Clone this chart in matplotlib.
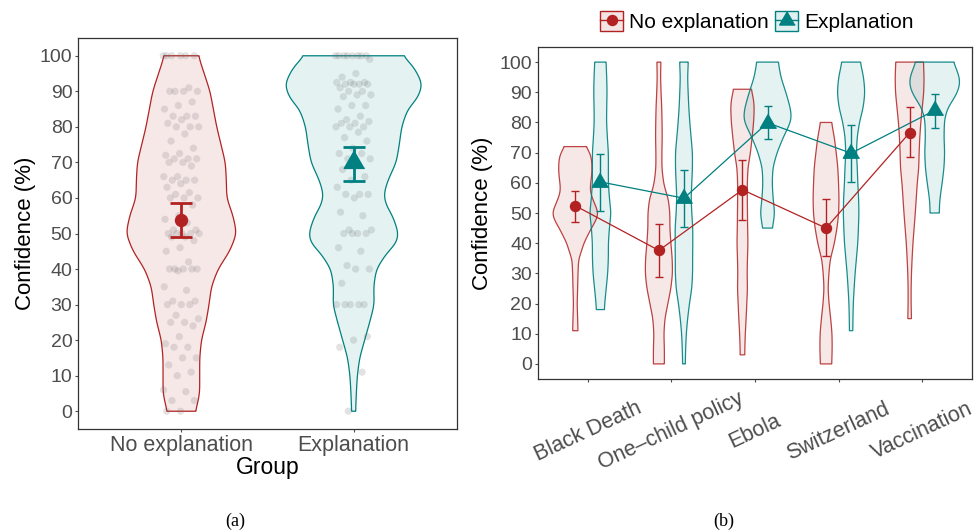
import numpy as np
import matplotlib
matplotlib.use('Agg')
import matplotlib.pyplot as plt
from matplotlib.patches import Patch
from matplotlib.lines import Line2D

plt.rcParams['font.family'] = ['Liberation Sans', 'DejaVu Sans']

RED = '#B22222'
TEAL = '#008080'
TICKC = '#4D4D4D'
FRAME = '#333333'

# ---------------- Panel (a) data ----------------
groups = ['No explanation', 'Explanation']
a_mean = [53.8, 70.0]
a_lo = [49.1, 64.8]
a_hi = [58.5, 74.3]

# violin half-width profiles (relative density) at confidence levels
a_noexp_y = [0, 2, 5, 10, 15, 20, 25, 30, 35, 40, 45, 50, 55, 60, 65, 70, 80, 90, 100]
a_noexp_w = [42, 48, 55, 55, 55, 60, 74, 83, 90, 110, 145, 166, 155, 136, 135, 132, 106, 86, 51]
a_exp_y = [0, 5, 10, 15, 20, 25, 30, 35, 40, 45, 47, 50, 55, 58, 61, 65, 70, 75, 80, 85, 88, 92, 97, 100]
a_exp_w = [6, 8, 11, 18, 33, 48, 62, 60, 68, 103, 128, 135, 117, 97, 90, 103, 128, 137, 144, 162, 192, 207, 180, 146]

# individual responses (confidence %)
a_noexp_pts = [100, 100, 100, 100, 100, 100, 91, 90, 90, 90, 90, 87, 86, 85, 83, 83, 83, 82, 81, 80, 80, 80,
               78, 76, 74, 72.5, 72, 71, 71, 71, 70, 70, 69, 66, 66, 65, 65, 65, 64, 63, 61.5, 61, 60, 60, 60,
               58, 55, 54, 53, 51, 51, 50, 50, 50, 50, 50, 49, 49, 48, 46, 45, 42, 40, 40, 40, 40, 40, 39.5,
               35, 34, 31, 31, 30, 30, 30, 27, 26, 25, 25, 24, 21, 19, 18, 18, 15, 15, 13, 11, 10, 6, 5.5,
               3, 3, 0, 0]
a_exp_pts = [100, 100, 100, 100, 100, 100, 100, 100, 99, 95, 94, 92.5, 92.5, 92.5, 92, 92, 92, 92, 91, 90, 90,
             89, 89, 88.5, 86, 86, 85, 83, 82, 81.5, 81, 81, 80, 80, 80, 78.5, 77, 76, 74, 72.5, 72.5, 71, 71,
             70, 68, 66, 65, 63, 61, 61, 61, 60, 56, 55, 51, 51, 50, 50, 50, 50, 46, 45, 41, 40, 40, 36, 30,
             30, 30, 30, 30, 21, 20, 18, 11, 0]

# ---------------- Panel (b) data ----------------
topics = ['Black Death', 'One\u2013child policy', 'Ebola', 'Switzerland', 'Vaccination']
b_noexp_mean = [52.4, 37.6, 57.7, 45.0, 76.6]
b_noexp_lo = [47.0, 28.8, 47.6, 35.6, 68.5]
b_noexp_hi = [57.4, 46.2, 67.7, 54.6, 85.0]
b_exp_mean = [60.3, 54.9, 79.9, 69.8, 84.0]
b_exp_lo = [50.8, 45.2, 74.4, 60.2, 78.1]
b_exp_hi = [69.6, 64.2, 85.6, 79.1, 89.5]

b_noexp_y = [
    [11, 15, 20, 25, 30, 35, 37, 40, 42, 45, 47, 50, 52, 55, 57, 60, 63, 67, 70, 72],
    [0, 5, 10, 15, 20, 25, 30, 35, 40, 45, 50, 55, 57, 60, 65, 70, 75, 80, 85, 90, 95, 100],
    [3, 5, 10, 15, 20, 25, 30, 35, 40, 45, 50, 55, 60, 65, 70, 75, 80, 85, 88, 91],
    [0, 5, 10, 15, 20, 25, 30, 35, 37, 40, 45, 50, 55, 60, 65, 70, 75, 80],
    [15, 20, 25, 30, 35, 40, 45, 50, 55, 60, 65, 70, 75, 80, 85, 90, 95, 100],
]
b_noexp_w = [
    [8, 7, 5.5, 7, 8, 10, 18, 25, 35, 48, 60, 71, 62, 51, 44, 46, 50, 50, 45, 30],
    [16.5, 16.5, 15, 18, 27, 36, 41, 40, 36, 33, 33, 28, 21, 14, 9, 9, 10, 9.5, 8.5, 6.5, 5, 6],
    [7, 7, 8.5, 11, 13, 15, 14, 15, 16.5, 15.5, 15, 14.5, 14.5, 16.5, 24, 29, 33.5, 35.5, 33, 26],
    [17, 18.5, 18, 14, 9, 6, 8.5, 13, 18.5, 25, 33, 38, 39, 37.5, 35.5, 30.5, 25, 16.5],
    [5.5, 4.5, 4.5, 5.5, 7.5, 10, 13.5, 17, 20, 23, 27.5, 28.5, 30.5, 33.5, 38, 42.5, 43.5, 41.5],
]
b_exp_y = [
    [18, 20, 25, 30, 35, 40, 45, 50, 55, 60, 65, 70, 75, 80, 85, 90, 95, 100],
    [0, 5, 10, 15, 20, 25, 30, 35, 40, 45, 50, 55, 60, 65, 70, 75, 80, 85, 90, 95, 100],
    [45, 47, 50, 55, 60, 65, 70, 75, 80, 82, 85, 90, 95, 97, 100],
    [11, 15, 20, 25, 30, 35, 40, 45, 50, 55, 60, 65, 70, 75, 80, 85, 90, 95, 100],
    [50, 52, 55, 60, 65, 70, 75, 80, 82, 85, 88, 91, 94, 97, 100],
]
b_exp_w = [
    [12, 13, 17.5, 22, 24, 24, 27, 32, 27, 24, 24, 24, 21, 18.5, 19, 20, 19, 17],
    [4, 5, 7, 11, 16.5, 23.5, 26, 26, 26.5, 26.5, 23.5, 21.5, 23.5, 25.5, 25.5, 21.5, 17.5, 14.5, 12.5, 11, 13],
    [14, 18, 21.5, 16.5, 14, 16, 28.5, 47, 69, 72, 68, 55, 40, 37, 32],
    [5, 5.5, 6.5, 9, 12, 16, 20, 22, 23.5, 22.5, 20, 18.5, 16, 18, 25, 36.5, 41.5, 37.5, 27.5],
    [14, 14, 16, 22.5, 28, 30, 28, 29, 31.5, 40, 58.5, 72.5, 76.5, 68, 56],
]


def violin(ax, center, ys, ws, scale, color, lw=1.0, ealpha=1.0):
    ys = np.asarray(ys, float)
    ws = np.asarray(ws, float)
    yy = np.arange(ys[0], ys[-1] + 1e-9, 0.2)
    ww = np.interp(yy, ys, ws)
    sig = 7
    k = np.exp(-0.5 * (np.arange(-3 * sig, 3 * sig + 1) / sig) ** 2)
    k /= k.sum()
    pad = np.concatenate([np.full(3 * sig, ww[0]), ww, np.full(3 * sig, ww[-1])])
    ww = np.convolve(pad, k, mode='valid')
    xl = center - ww * scale
    xr = center + ww * scale
    px = np.concatenate([xl, xr[::-1]])
    py = np.concatenate([yy, yy[::-1]])
    ax.fill(px, py, facecolor=color, alpha=0.1, edgecolor='none', zorder=1)
    ax.fill(px, py, facecolor='none', edgecolor=color, lw=lw, alpha=ealpha, zorder=1.5)


tri = [(0, 0.577), (-0.5, -0.289), (0.5, -0.289)]

fig = plt.figure(figsize=(9.74, 5.32), dpi=100)

# ---------------- Panel (a) ----------------
axa = fig.add_axes([78 / 974, 1 - 429 / 532, 379 / 974, 391 / 532])
scale_a = 2.2 / (379 * 3)
violin(axa, 1, a_noexp_y, a_noexp_w, scale_a, RED, lw=0.9)
violin(axa, 2, a_exp_y, a_exp_w, scale_a, TEAL, lw=0.9)

phi = 0.6180339887
for gi, pts in enumerate([a_noexp_pts, a_exp_pts]):
    n = len(pts)
    jit = (((np.arange(n) * phi) % 1.0) - 0.5) * 2 * 0.105
    axa.scatter(gi + 1 + jit, pts, s=5.2 ** 2, color='#707070', alpha=0.2, edgecolors='none', zorder=2)

xa = np.arange(1, 3)
axa.errorbar([xa[0]], [a_mean[0]], yerr=[[a_mean[0] - a_lo[0]], [a_hi[0] - a_mean[0]]],
             fmt='o', color=RED, ms=8.6, lw=2.0, capsize=7.6, capthick=2.0, zorder=4)
axa.errorbar([xa[1]], [a_mean[1]], yerr=[[a_mean[1] - a_lo[1]], [a_hi[1] - a_mean[1]]],
             fmt='none', ecolor=TEAL, lw=2.0, capsize=7.6, capthick=2.0, zorder=4)
axa.plot([xa[1]], [a_mean[1]], marker=tri, ms=17, color=TEAL, ls='none', zorder=5)

axa.set_xlim(0.4, 2.6)
axa.set_ylim(-5, 105)
axa.set_yticks(np.arange(0, 101, 10))
axa.set_xticks(xa)
axa.set_xticklabels(groups)
axa.set_xlabel('Group', fontsize=16.5, labelpad=0)
axa.set_ylabel('Confidence (%)', fontsize=16, labelpad=3)
axa.tick_params(axis='y', labelsize=14, colors=TICKC, length=2.5, width=0.8, pad=1.5)
axa.tick_params(axis='x', labelsize=15.5, colors=TICKC, length=2.5, width=0.8, pad=1.5)
for s in axa.spines.values():
    s.set_color(FRAME)
    s.set_linewidth(0.9)

# ---------------- Panel (b) ----------------
axb = fig.add_axes([537.7 / 974, 1 - 379 / 532, 434.6 / 974, 332 / 532])
scale_b = 1.0 / 251
xb = np.arange(1, len(topics) + 1)
dodge = 0.15
for i in range(len(topics)):
    violin(axb, xb[i] - dodge, b_noexp_y[i], b_noexp_w[i], scale_b, RED, lw=0.9, ealpha=0.85)
    violin(axb, xb[i] + dodge, b_exp_y[i], b_exp_w[i], scale_b, TEAL, lw=0.9, ealpha=0.9)

axb.plot(xb - dodge, b_noexp_mean, color=RED, lw=0.9, zorder=3)
axb.plot(xb + dodge, b_exp_mean, color=TEAL, lw=0.9, zorder=3)
axb.errorbar(xb - dodge, b_noexp_mean,
             yerr=[np.subtract(b_noexp_mean, b_noexp_lo), np.subtract(b_noexp_hi, b_noexp_mean)],
             fmt='none', ecolor=RED, lw=1.0, capsize=2.9, capthick=1.0, zorder=4)
axb.errorbar(xb + dodge, b_exp_mean,
             yerr=[np.subtract(b_exp_mean, b_exp_lo), np.subtract(b_exp_hi, b_exp_mean)],
             fmt='none', ecolor=TEAL, lw=1.0, capsize=2.9, capthick=1.0, zorder=4)
axb.plot(xb - dodge, b_noexp_mean, 'o', color=RED, ms=7.2, zorder=5)
axb.plot(xb + dodge, b_exp_mean, marker=tri, ls='none', color=TEAL, ms=13.5, zorder=5)

axb.set_xlim(0.4, 5.6)
axb.set_ylim(-5, 105)
axb.set_yticks(np.arange(0, 101, 10))
axb.set_xticks(xb)
axb.set_xticklabels(topics, rotation=25, ha='center', va='center')
axb.set_ylabel('Confidence (%)', fontsize=16, labelpad=5)
axb.tick_params(axis='y', labelsize=14, colors=TICKC, length=2.5, width=0.8, pad=1.5)
axb.tick_params(axis='x', labelsize=15.5, colors=TICKC, length=2.5, width=0.8, pad=35)
for s in axb.spines.values():
    s.set_color(FRAME)
    s.set_linewidth(0.9)

# legend
h1 = (Patch(facecolor=RED, alpha=0.12, edgecolor='none'),
      Patch(facecolor='none', edgecolor=RED, lw=1.0),
      Line2D([], [], color=RED, lw=1.0, marker='o', ms=7.2))
h2 = (Patch(facecolor=TEAL, alpha=0.12, edgecolor='none'),
      Patch(facecolor='none', edgecolor=TEAL, lw=1.0),
      Line2D([], [], color=TEAL, lw=1.0, marker=tri, ms=13))
fig.legend([h1, h2], groups, loc='center', bbox_to_anchor=(757 / 974, 1 - 21.5 / 532),
           ncol=2, frameon=False, fontsize=15, handlelength=1.1, handleheight=1.1,
           handletextpad=0.3, columnspacing=0.3, borderpad=0, borderaxespad=0)

fig.text(235 / 974, 1 - 521 / 532, '(a)', ha='center', va='center', fontsize=13,
         family=['Liberation Serif', 'DejaVu Serif'])
fig.text(724 / 974, 1 - 521 / 532, '(b)', ha='center', va='center', fontsize=13,
         family=['Liberation Serif', 'DejaVu Serif'])

fig.savefig('out.png', dpi=100)
